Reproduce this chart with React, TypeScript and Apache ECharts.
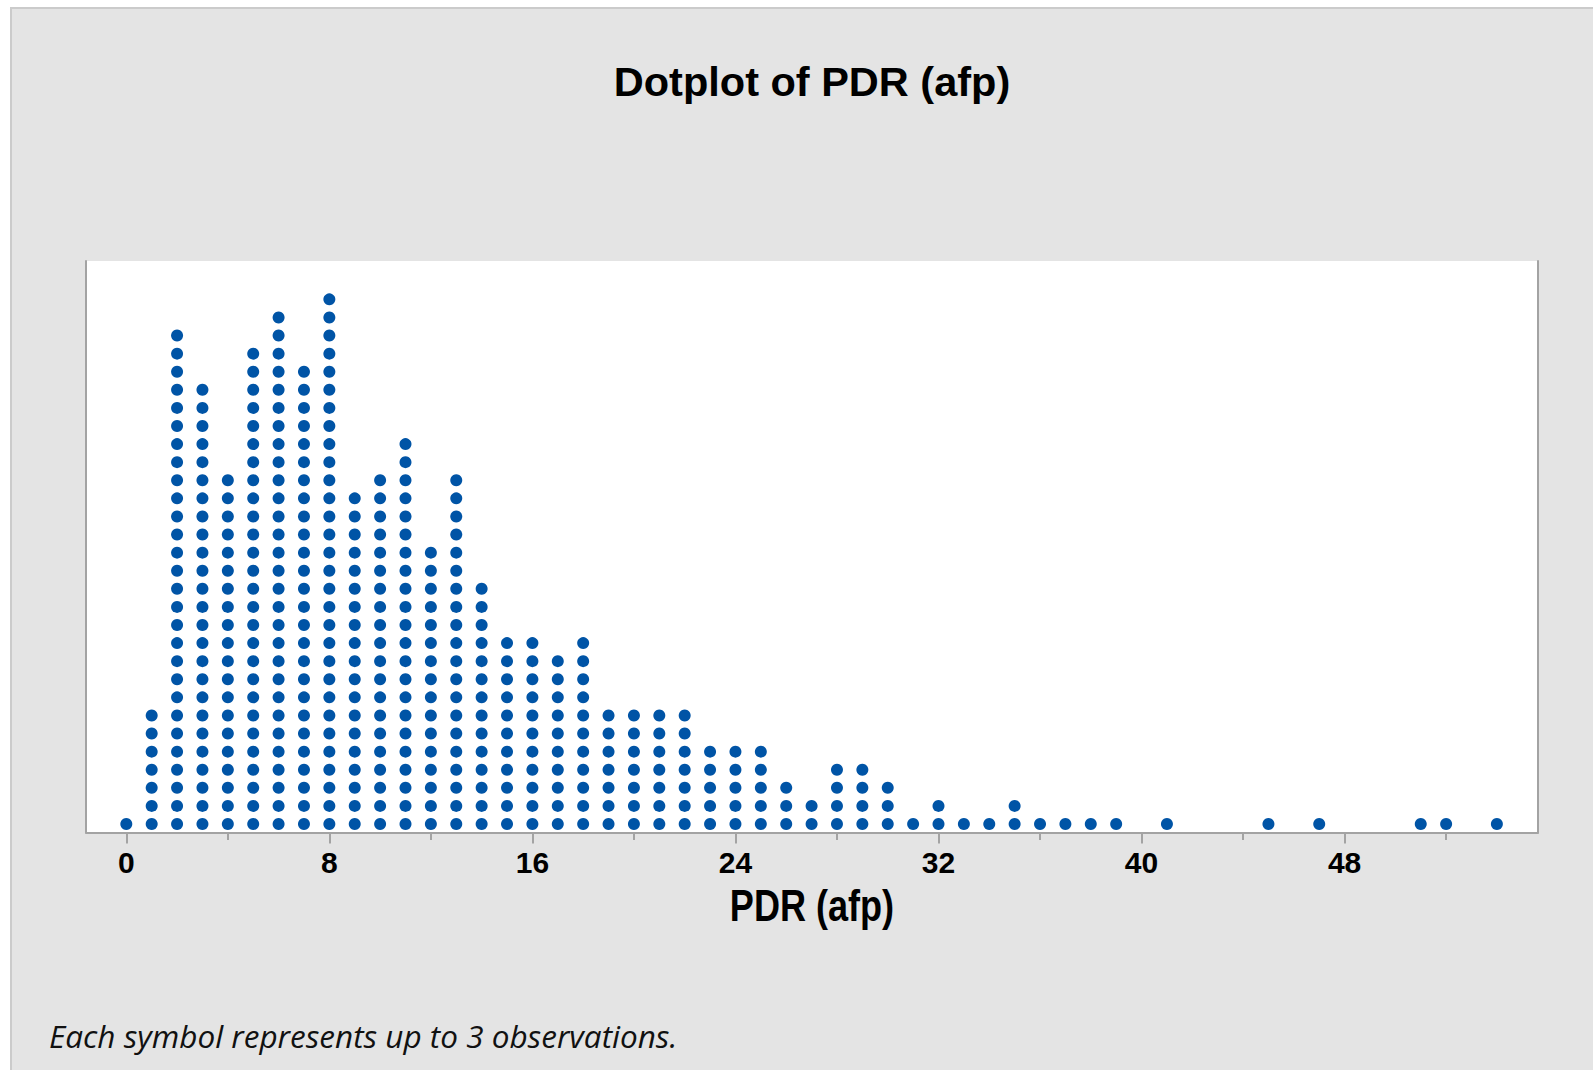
import { useEffect, useRef } from "react";
import * as echarts from "echarts";

// PDR (afp) bin centres and the number of symbols stacked in each bin
const binValues = [
  0, 1, 2, 3, 4, 5, 6, 7, 8, 9, 10, 11, 12, 13, 14, 15, 16, 17, 18, 19, 20,
  21, 22, 23, 24, 25, 26, 27, 28, 29, 30, 31, 32, 33, 34, 35, 36, 37, 38, 39,
  41, 45, 47, 51, 52, 54,
];
const dotCounts = [
  1, 7, 28, 25, 20, 27, 29, 26, 30, 19, 20, 22, 16, 20, 14, 11, 11, 10, 11, 7,
  7, 7, 7, 5, 5, 5, 3, 2, 4, 4, 3, 1, 2, 1, 1, 2, 1, 1, 1, 1,
  1, 1, 1, 1, 1, 1,
];
const majorTicks = [0, 8, 16, 24, 32, 40, 48];
const minorTicks = [4, 12, 20, 28, 36, 44, 52];
const titleText = "Dotplot of PDR (afp)";
const axisTitle = "PDR (afp)";
const footnote = "Each symbol represents up to 3 observations.";

const X_MIN = -1.588;
const X_MAX = 55.62;
const Y_MIN = -0.47;
const Y_MAX = 31.12;

export default function App() {
  const ref = useRef<HTMLDivElement>(null);

  useEffect(() => {
    if (!ref.current) return;
    const chart = echarts.init(ref.current, undefined, {
      renderer: "svg",
      width: 1593,
      height: 1070,
    });

    const points: number[][] = [];
    binValues.forEach((b, i) => {
      for (let r = 0; r < dotCounts[i]; r++) points.push([b, r]);
    });

    const frameLine = { color: "#a3a3a3", width: 2 };
    const gridRect = { left: 86, right: 55, top: 261, bottom: 237.5 };

    chart.setOption({
      animation: false,
      backgroundColor: "transparent",
      title: {
        text: titleText,
        left: 812,
        top: 59,
        padding: 0,
        textAlign: "center",
        textStyle: {
          fontFamily: "'Liberation Sans', Arial, sans-serif",
          fontWeight: "bold",
          fontSize: 41.5,
          lineHeight: 44,
          color: "#000",
        },
      },
      grid: [
        {
          ...gridRect,
          show: true,
          backgroundColor: "#ffffff",
          borderWidth: 0,
        },
        { ...gridRect, show: false },
      ],
      xAxis: [
        {
          type: "value",
          gridIndex: 0,
          min: X_MIN,
          max: X_MAX,
          position: "bottom",
          axisLine: { show: true, onZero: false, lineStyle: frameLine },
          axisTick: {
            show: true,
            customValues: majorTicks,
            length: 11,
            lineStyle: { color: "#a3a3a3", width: 2 },
          },
          axisLabel: {
            show: true,
            customValues: majorTicks,
            margin: 15,
            fontFamily: "'Liberation Sans', Arial, sans-serif",
            fontWeight: "bold",
            fontSize: 30,
            lineHeight: 30,
            color: "#000",
          },
          splitLine: { show: false },
        },
        {
          type: "value",
          gridIndex: 1,
          min: X_MIN,
          max: X_MAX,
          position: "bottom",
          axisLine: { show: false, onZero: false },
          axisTick: {
            show: true,
            customValues: minorTicks,
            length: 7.5,
            lineStyle: { color: "#a3a3a3", width: 2 },
          },
          axisLabel: { show: false },
          splitLine: { show: false },
        },
      ],
      yAxis: [
        {
          type: "value",
          gridIndex: 0,
          min: Y_MIN,
          max: Y_MAX,
          position: "left",
          axisLine: { show: true, onZero: false, lineStyle: frameLine },
          axisTick: { show: false },
          axisLabel: { show: false },
          splitLine: { show: false },
        },
        {
          type: "value",
          gridIndex: 1,
          min: Y_MIN,
          max: Y_MAX,
          position: "right",
          axisLine: { show: true, onZero: false, lineStyle: frameLine },
          axisTick: { show: false },
          axisLabel: { show: false },
          splitLine: { show: false },
        },
      ],
      series: [
        {
          type: "scatter",
          xAxisIndex: 0,
          yAxisIndex: 0,
          data: points,
          symbol: "circle",
          symbolSize: 12,
          itemStyle: { color: "#0054A6", opacity: 1 },
          silent: true,
        },
      ],
      graphic: [
        {
          type: "text",
          x: 812,
          y: 906,
          scaleX: 0.82,
          style: {
            text: axisTitle,
            font: "bold 44px 'Liberation Sans', Arial, sans-serif",
            fill: "#000",
            align: "center",
            verticalAlign: "middle",
          },
        },
        {
          type: "text",
          left: 49,
          top: 1019,
          style: {
            text: footnote,
            font: "italic 31.5px 'Open Sans', 'Noto Sans', sans-serif",
            fill: "#111",
          },
        },
      ],
    });

    return () => chart.dispose();
  }, []);

  return (
    <div
      style={{
        position: "absolute",
        left: 0,
        top: 0,
        width: 1593,
        height: 1070,
        background: "#ffffff",
        overflow: "hidden",
      }}
    >
      <div
        style={{
          position: "absolute",
          left: 10,
          top: 7,
          right: 0,
          bottom: 0,
          background: "#e4e4e4",
          borderTop: "2px solid #cbcbcb",
          borderLeft: "2px solid #cbcbcb",
        }}
      />
      <div
        ref={ref}
        style={{ position: "absolute", left: 0, top: 0, width: 1593, height: 1070 }}
      />
    </div>
  );
}
